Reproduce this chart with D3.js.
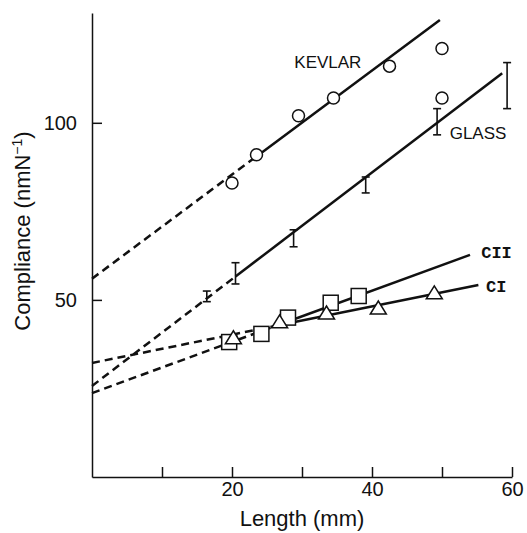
<!DOCTYPE html>
<html>
<head>
<meta charset="utf-8">
<style>
  body { margin: 0; background: #fff; }
  svg text { font-family: "Liberation Sans", Arial, sans-serif; fill: #111; }
  .domain, .tick line { stroke: #111; stroke-width: 1.5px; }
</style>
</head>
<body>
<div id="chart"></div>
<script src="https://d3js.org/d3.v7.min.js"></script>
<script>
// data
var kevlarX = [20, 23.5, 29.5, 34.5, 42.5, 50, 50];
var kevlarY = [83, 91, 102, 107, 116, 121, 107];

var glassX = [16.4, 20.5, 28.8, 39.1, 49.3, 59.3];
var glassLo = [49.5, 54.5, 65, 80.2, 96.6, 104];
var glassHi = [52.5, 60.5, 69.8, 84.7, 104, 117];

var c2X = [19.6, 24.2, 28, 34.1, 38.1];
var c2Y = [38.1, 40.4, 45, 49.2, 51.1];

var c1X = [20.2, 26.8, 33.5, 40.9, 48.9];
var c1Y = [39.3, 43.8, 46.3, 47.7, 52];

// fitted lines: first segment dashed (extrapolation), second solid
var kevlarLineX = [0, 23.5, 49.7];
var kevlarLineY = [56, 90.5, 129];
var glassLineX = [0, 20.5, 58.6];
var glassLineY = [25.7, 56.6, 114];
var c2LineX = [0, 27, 54];
var c2LineY = [23.7, 43.2, 62.7];
var c1LineX = [0, 26.8, 55.2];
var c1LineY = [32.2, 42.9, 54.2];

var xTicks = [10, 20, 30, 40, 50, 60];
var xTickLabels = ["", "20", "", "40", "", "60"];
var yTicks = [50, 100];

var W = 527, H = 533;
var margin = {left: 92, top: 13, right: 15, bottom: 56};

var svg = d3.select("#chart").append("svg")
  .attr("width", W).attr("height", H);

var x = d3.scaleLinear().domain([0, 60]).range([margin.left, W - margin.right]);
var y = d3.scaleLinear().domain([0, 131]).range([H - margin.bottom, margin.top]);

// axes, ticks pointing inward
svg.append("g")
  .attr("transform", "translate(" + margin.left + ",0)")
  .call(d3.axisLeft(y).tickValues(yTicks).tickSizeInner(-10).tickSizeOuter(0).tickPadding(15))
  .call(function (g) { g.selectAll("text").style("font-size", "20px"); });

svg.append("g")
  .attr("transform", "translate(0," + (H - margin.bottom) + ")")
  .call(d3.axisBottom(x).tickValues(xTicks).tickSizeInner(-10).tickSizeOuter(0).tickPadding(5)
    .tickFormat(function (d, i) { return xTickLabels[i]; }))
  .call(function (g) { g.selectAll("text").style("font-size", "20px"); });

svg.append("text")
  .attr("x", 302).attr("y", 526)
  .attr("text-anchor", "middle")
  .style("font-size", "22px")
  .text("Length (mm)");

var yl = svg.append("text")
  .attr("transform", "translate(30,231) rotate(-90)")
  .attr("text-anchor", "middle")
  .style("font-size", "22px");
yl.append("tspan").text("Compliance (nmN");
yl.append("tspan").attr("dy", -8).style("font-size", "14px").text("\u22121");
yl.append("tspan").attr("dy", 8).text(")");

// fit lines
function drawFit(xs, ys) {
  for (var i = 0; i < xs.length - 1; i++) {
    svg.append("line")
      .attr("x1", x(xs[i])).attr("y1", y(ys[i]))
      .attr("x2", x(xs[i + 1])).attr("y2", y(ys[i + 1]))
      .attr("stroke", "#111")
      .attr("stroke-width", 2.5)
      .attr("stroke-dasharray", i == 0 ? "8,5" : null);
  }
}
drawFit(kevlarLineX, kevlarLineY);
drawFit(glassLineX, glassLineY);
drawFit(c2LineX, c2LineY);
drawFit(c1LineX, c1LineY);

// glass error bars
var bars = svg.append("g").attr("stroke", "#111").attr("stroke-width", 1.6);
glassX.forEach(function (gx, i) {
  var cx = x(gx);
  bars.append("line").attr("x1", cx).attr("x2", cx)
    .attr("y1", y(glassLo[i])).attr("y2", y(glassHi[i]));
  [glassLo[i], glassHi[i]].forEach(function (v) {
    bars.append("line").attr("x1", cx - 4).attr("x2", cx + 4)
      .attr("y1", y(v)).attr("y2", y(v));
  });
});

// kevlar circles
svg.append("g").selectAll("circle")
  .data(kevlarX)
  .enter().append("circle")
  .attr("cx", function (d) { return x(d); })
  .attr("cy", function (d, i) { return y(kevlarY[i]); })
  .attr("r", 6)
  .attr("fill", "#fff").attr("stroke", "#111").attr("stroke-width", 1.5);

// CII squares
svg.append("g").selectAll("rect")
  .data(c2X)
  .enter().append("rect")
  .attr("x", function (d) { return x(d) - 7.5; })
  .attr("y", function (d, i) { return y(c2Y[i]) - 7.5; })
  .attr("width", 15).attr("height", 15)
  .attr("fill", "#fff").attr("stroke", "#111").attr("stroke-width", 1.5);

// CI triangles
svg.append("g").selectAll("path")
  .data(c1X)
  .enter().append("path")
  .attr("d", function (d, i) {
    var cx = x(d), cy = y(c1Y[i]);
    return "M" + (cx - 8) + "," + (cy + 6) + "L" + (cx + 8) + "," + (cy + 6) + "L" + cx + "," + (cy - 7) + "Z";
  })
  .attr("fill", "#fff").attr("stroke", "#111").attr("stroke-width", 1.5);

// labels
svg.append("text").attr("x", x(28.9)).attr("y", y(115.5)).style("font-size", "17px").text("KEVLAR");
svg.append("text").attr("x", x(51.1)).attr("y", y(95.5)).style("font-size", "17px").text("GLASS");
svg.append("text").attr("x", x(55.6)).attr("y", y(61.9))
  .style("font-family", "'Liberation Mono', monospace").style("font-weight", "bold").style("font-size", "17px").text("CII");
svg.append("text").attr("x", x(56.3)).attr("y", y(52.3))
  .style("font-family", "'Liberation Mono', monospace").style("font-weight", "bold").style("font-size", "17px").text("CI");
</script>
</body>
</html>
